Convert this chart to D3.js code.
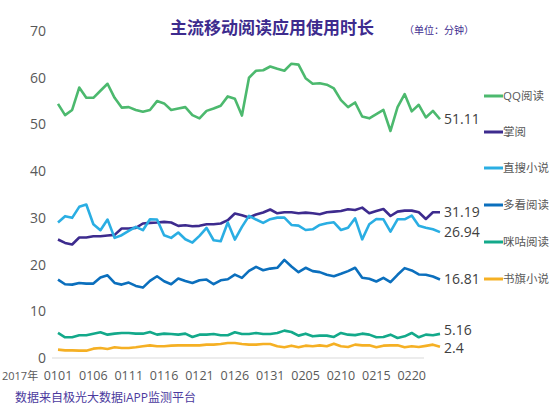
<!DOCTYPE html>
<html><head><meta charset="utf-8">
<script src="https://cdn.jsdelivr.net/npm/d3@7"></script>
<style>body{margin:0;background:#fff}text{font-family:"Open Sans","Noto Sans CJK SC",sans-serif}</style>
</head><body><svg id="c" width="552" height="414"></svg>
<script>
const seriesNames = ["QQ阅读","掌阅","直搜小说","多看阅读","咪咕阅读","书旗小说"];
const colors = ["#4cb96e","#3d2b8e","#2aaee3","#0b6fbd","#13a98a","#f5b024"];
const qq = [54.4,52.0,53.1,57.9,55.7,55.7,57.2,58.7,55.7,53.6,53.7,53.1,52.7,53.1,55.0,54.5,53.1,53.4,53.7,52.0,51.3,52.9,53.4,54.0,56.0,55.5,51.9,60.0,61.5,61.6,62.4,61.9,61.5,63.0,62.8,59.9,58.7,58.8,58.5,57.7,55.2,53.7,54.7,51.7,51.3,52.2,53.1,48.6,53.7,56.5,52.8,54.2,51.5,52.9,51.11];
const zhangyue = [25.36,24.64,24.29,25.79,25.79,26.07,26.07,26.21,26.36,27.71,27.71,27.86,28.79,28.93,29.0,29.14,29.0,28.29,28.43,28.21,28.29,28.64,28.64,28.79,29.5,30.93,30.57,30.07,30.71,31.14,31.79,30.98,31.19,31.19,30.98,31.12,30.98,30.76,31.19,31.33,31.48,31.83,31.69,32.19,30.98,31.48,31.9,30.4,31.33,31.55,31.55,31.19,29.76,31.19,31.19];
const zhisou = [29.0,30.36,30.0,32.36,32.86,28.64,27.36,29.64,25.71,26.29,27.21,28.07,27.36,29.71,29.64,26.29,25.71,26.86,25.43,24.71,26.14,27.86,25.21,25.0,29.0,25.36,28.07,30.43,29.64,28.93,29.71,30.05,30.05,28.48,28.33,27.4,27.55,28.48,28.83,29.05,27.4,27.9,29.9,25.4,28.62,29.76,29.69,27.05,29.69,29.69,30.48,28.33,27.9,27.55,26.94];
const duokan = [16.79,15.79,15.71,16.07,15.93,15.93,17.21,17.71,16.07,15.71,16.14,15.43,15.07,16.5,17.5,16.43,15.79,17.0,16.5,16.07,16.64,16.79,15.79,16.64,16.86,17.86,17.14,18.64,19.5,18.79,19.14,19.31,21.0,19.6,18.38,19.31,18.6,18.38,17.81,17.52,18.02,18.6,19.31,17.17,16.95,16.38,17.17,16.24,17.81,19.24,18.74,17.88,17.81,17.45,16.81];
const migu = [5.36,4.43,4.43,4.86,4.86,5.21,5.5,5.0,5.21,5.36,5.36,5.21,5.21,5.57,5.0,5.21,5.14,5.0,5.21,4.5,5.0,5.0,5.14,4.86,4.86,5.5,5.14,5.14,5.36,5.14,5.14,5.36,5.86,5.57,4.79,5.21,4.64,4.79,4.79,4.5,5.36,5.0,4.9,5.21,5.0,4.43,4.5,5.0,4.29,4.64,5.36,4.43,5.0,4.86,5.16];
const shuqi = [1.79,1.64,1.64,1.57,1.57,2.0,2.14,1.93,2.29,2.14,2.14,2.29,2.5,2.71,2.5,2.5,2.64,2.71,2.71,2.71,2.71,2.86,2.86,3.0,3.21,3.21,3.0,2.86,2.86,3.0,3.0,2.5,2.29,2.64,2.29,2.64,2.5,2.71,2.5,3.07,2.5,2.36,2.86,2.71,2.71,2.29,2.64,2.71,2.71,2.29,2.5,2.36,2.6,2.86,2.4];
const endLabels = ["51.11","31.19","26.94","16.81","5.16","2.4"];
const xTickLabels = ["0101","0106","0111","0116","0121","0126","0131","0205","0210","0215","0220"];
const yTicks = [0,10,20,30,40,50,60,70];
const allSeries = [qq,zhangyue,zhisou,duokan,migu,shuqi];

const svg = d3.select("#c");
const x = d3.scaleLinear().domain([0,54]).range([58,440]);
const y = d3.scaleLinear().domain([0,70]).range([358,31]);

svg.append("line").attr("x1",52).attr("x2",424).attr("y1",y(0)).attr("y2",y(0)).attr("stroke","#d9d9d9");
svg.selectAll(".yt").data(yTicks).join("text").attr("x",46).attr("y",d=>y(d)+5)
  .attr("text-anchor","end").attr("font-size",14).attr("fill","#595959").text(d=>d);
svg.selectAll(".xt").data(xTickLabels).join("text").attr("x",(d,i)=>x(i*5)).attr("y",380)
  .attr("text-anchor","middle").attr("font-size",12.5).attr("fill","#595959").text(d=>d);
svg.append("text").attr("x",2).attr("y",380).attr("font-size",11).attr("fill","#595959").text("2017年");

const line = d3.line().x((d,i)=>x(i)).y(d=>y(d));
const labelShift = [0,0,0,0,-4,1];
allSeries.forEach((s,k)=>{
  svg.append("path").attr("d",line(s)).attr("fill","none").attr("stroke",colors[k])
    .attr("stroke-width",2.6).attr("stroke-linejoin","round");
  svg.append("text").attr("x",x(s.length-1)+4).attr("y",y(s[s.length-1])+5+labelShift[k])
    .attr("font-size",14).attr("fill","#404040").text(endLabels[k]);
});

const legY = [96,132,168,205,242,279];
seriesNames.forEach((n,k)=>{
  svg.append("line").attr("x1",484).attr("x2",503).attr("y1",legY[k]).attr("y2",legY[k])
    .attr("stroke",colors[k]).attr("stroke-width",3);
  svg.append("text").attr("x",503).attr("y",legY[k]+4).attr("font-size",11.5).attr("fill","#595959").text(n);
});

svg.append("text").attr("x",272).attr("y",34).attr("text-anchor","middle").attr("font-size",17)
  .attr("font-weight","bold").attr("fill","#3d2b8e").text("主流移动阅读应用使用时长");
svg.append("text").attr("x",404).attr("y",34).attr("font-size",10).attr("fill","#3d2b8e").text("（单位：分钟）");
svg.append("text").attr("x",15).attr("y",402).attr("font-size",12).attr("fill","#4b3a9e").text("数据来自极光大数据iAPP监测平台");
</script></body></html>
